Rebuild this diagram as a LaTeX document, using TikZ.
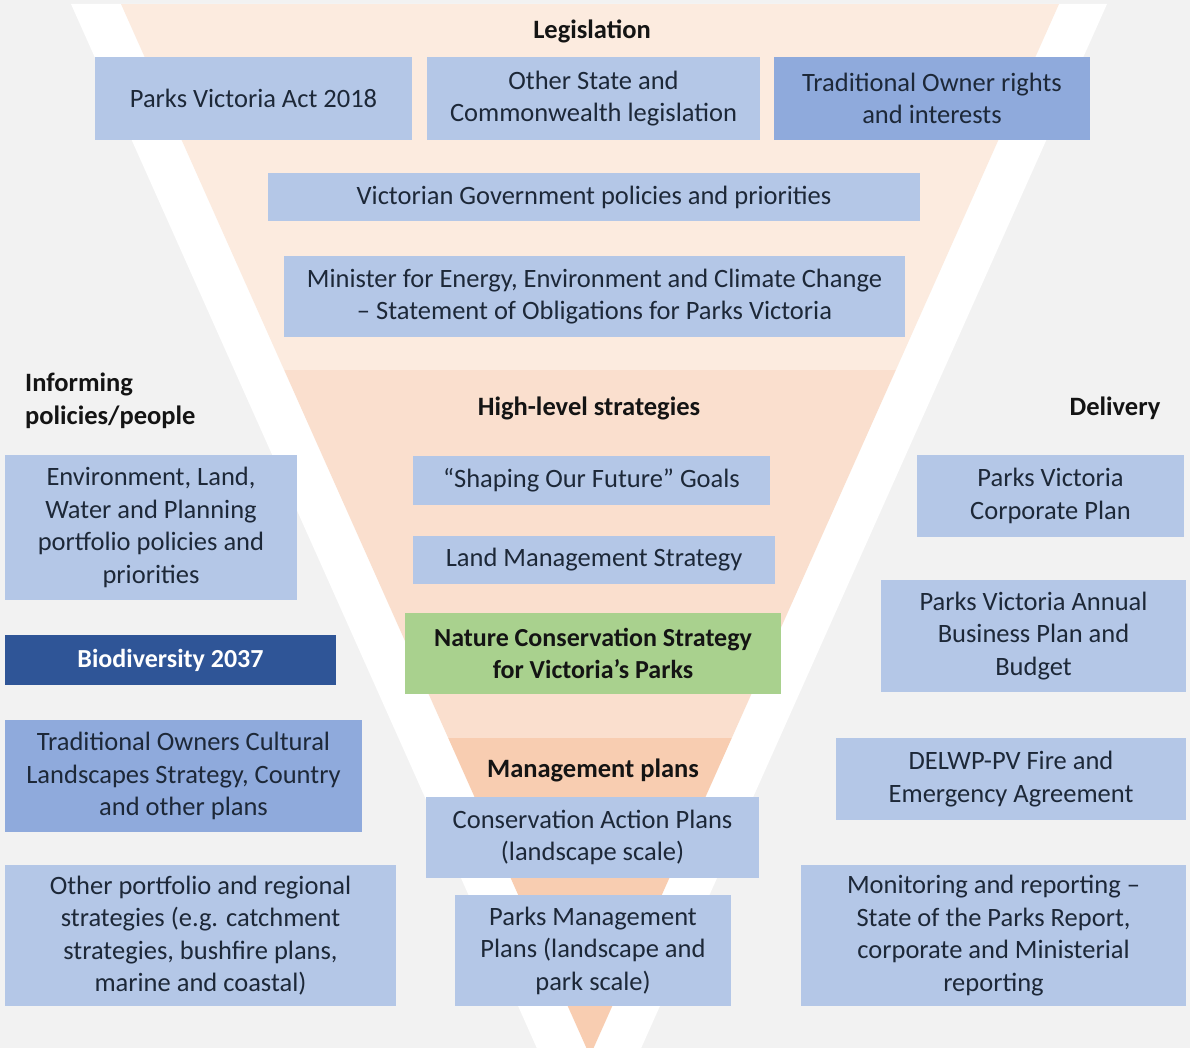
\documentclass[tikz,border=0pt]{standalone}
\usepackage{fontspec}
\setmainfont{Carlito}
\definecolor{bggray}{HTML}{F2F2F2}
\definecolor{bandtop}{HTML}{FCEBDF}
\definecolor{bandmid}{HTML}{FADFCE}
\definecolor{bandlow}{HTML}{F8CDB1}
\definecolor{boxlight}{HTML}{B4C7E7}
\definecolor{boxmid}{HTML}{8FAADC}
\definecolor{boxdark}{HTML}{2F5597}
\definecolor{boxgreen}{HTML}{A9D18E}
\definecolor{txt}{HTML}{1D2838}
\definecolor{hdr}{HTML}{141414}
\begin{document}
\begin{tikzpicture}[x=1pt,y=-1pt,
  box/.style={fill=boxlight, text=txt, align=center, inner sep=0pt,
    font=\fontsize{26.5}{32.5}\selectfont},
  midbox/.style={box, fill=boxmid},
  darkbox/.style={box, fill=boxdark, text=white, font=\bfseries\fontsize{26}{32.5}\selectfont},
  greenbox/.style={box, fill=boxgreen, text=hdr, font=\bfseries\fontsize{26}{32.5}\selectfont},
  heading/.style={text=hdr, inner sep=0pt, font=\bfseries\fontsize{26.5}{32.5}\selectfont}]
\useasboundingbox (0,0) rectangle (1190,1048);
\fill[bggray] (0,0) rectangle (1190,1048);

% funnel with its white margin and three shaded bands
\begin{scope}
  \clip (0,0) rectangle (1190,1048);
  \fill[white] (71,4) -- (1107,4) -- (589,1165) -- cycle;
  \begin{scope}
    \clip (121,4) -- (1059,4) -- (590,1056) -- cycle;
    \fill[bandtop] (0,4) rectangle (1190,370);
    \fill[bandmid] (0,370) rectangle (1190,738);
    \fill[bandlow] (0,738) rectangle (1190,1060);
  \end{scope}
\end{scope}

% legislation
\node[heading] (leg) at (592,31) {Legislation};
\node[box, minimum width=317pt, minimum height=83pt] (act) at (253.5,98.5) {Parks Victoria Act 2018};
\node[box, minimum width=333pt, minimum height=83pt] (other) at (593.5,98.5) {Other State and\\Commonwealth legislation};
\node[midbox, minimum width=316pt, minimum height=83pt] (torights) at (932,98.5) {Traditional Owner rights\\and interests};
\node[box, minimum width=652pt, minimum height=48pt] (vicgov) at (594,197) {Victorian Government policies and priorities};
\node[box, minimum width=621pt, minimum height=81pt] (minister) at (594.5,296.5) {Minister for Energy, Environment and Climate Change\\– Statement of Obligations for Parks Victoria};

% high-level strategies
\node[heading] (hls) at (589,408) {High-level strategies};
\node[box, minimum width=357pt, minimum height=49pt] (goals) at (591.5,480.5) {“Shaping Our Future” Goals};
\node[box, minimum width=362pt, minimum height=48pt] (lms) at (594,560) {Land Management Strategy};
\node[greenbox, minimum width=376pt, minimum height=81pt] (ncs) at (593,653.5) {Nature Conservation Strategy\\for Victoria’s Parks};

% management plans
\node[heading] (mp) at (593,770) {Management plans};
\node[box, minimum width=333pt, minimum height=81pt] (cap) at (592.5,837.5) {Conservation Action Plans\\(landscape scale)};
\node[box, minimum width=276pt, minimum height=111pt] (pmp) at (593,950.5) {Parks Management\\Plans (landscape and\\park scale)};

% informing policies and people
\node[heading, align=left, anchor=west] (inf) at (25,401) {Informing\\policies/people};
\node[box, minimum width=292pt, minimum height=145pt] (delwp) at (151,527.5) {Environment, Land,\\Water and Planning\\portfolio policies and\\priorities};
\node[darkbox, minimum width=331pt, minimum height=50pt] (bio) at (170.5,660) {Biodiversity 2037};
\node[midbox, minimum width=357pt, minimum height=112pt] (tocl) at (183.5,776) {Traditional Owners Cultural\\Landscapes Strategy, Country\\and other plans};
\node[box, minimum width=391pt, minimum height=141pt] (regional) at (200.5,935.5) {Other portfolio and regional\\strategies (e.g. catchment\\strategies, bushfire plans,\\marine and coastal)};

% delivery
\node[heading] (del) at (1115,408) {Delivery};
\node[box, minimum width=267pt, minimum height=82pt] (corp) at (1050.5,496) {Parks Victoria\\Corporate Plan};
\node[box, minimum width=305pt, minimum height=112pt] (annual) at (1033.5,636) {Parks Victoria Annual\\Business Plan and\\Budget};
\node[box, minimum width=350pt, minimum height=82pt] (fire) at (1011,779) {DELWP-PV Fire and\\Emergency Agreement};
\node[box, minimum width=385pt, minimum height=141pt] (monitor) at (993.5,935.5) {Monitoring and reporting –\\State of the Parks Report,\\corporate and Ministerial\\reporting};
\end{tikzpicture}
\end{document}
